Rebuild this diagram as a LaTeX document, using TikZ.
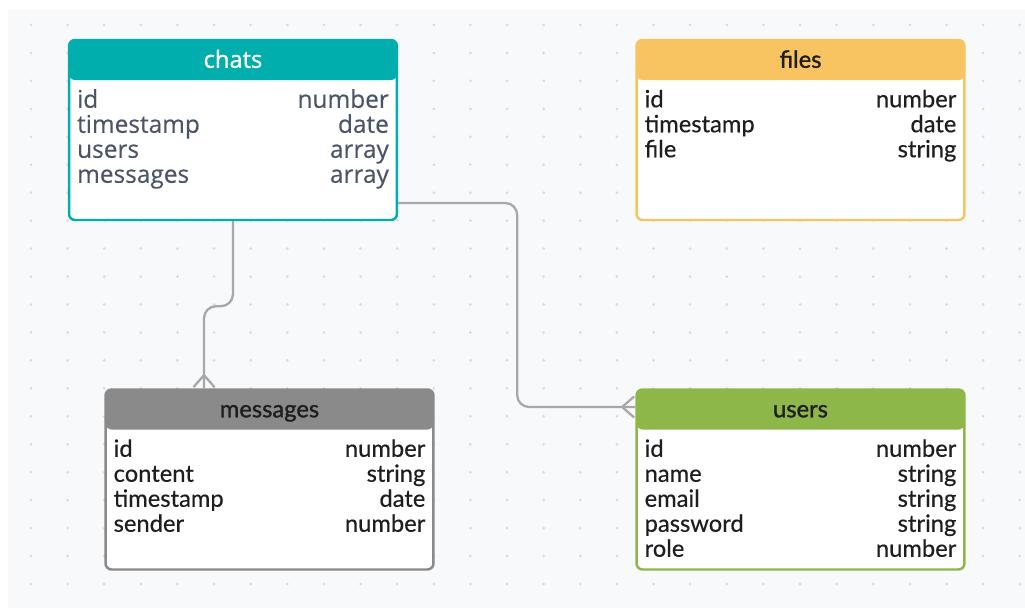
\documentclass[tikz,border=0pt]{standalone}
\usepackage{fontspec}
\setmainfont{Lato}[FakeBold=0.4]
\newfontfamily\chatsfont{Open Sans}[FakeBold=0.3]
\newfontfamily\headfont{Lato}[FakeBold=1.2]
\newfontfamily\chatsheadfont{Open Sans}[FakeBold=1.2]
\usetikzlibrary{arrows.meta,positioning}

\definecolor{canvas}{HTML}{F8F9FB}
\definecolor{griddot}{HTML}{D8DBDF}
\definecolor{chatshead}{HTML}{00AEAD}
\definecolor{fileshead}{HTML}{F8C462}
\definecolor{msghead}{HTML}{8A8A8A}
\definecolor{usershead}{HTML}{8DB749}
\definecolor{slate}{HTML}{4A5568}
\definecolor{ink}{HTML}{1E1E1E}
\definecolor{linkgray}{HTML}{A8A8A8}

\tikzset{
  table/.style={rectangle, draw=#1, fill=white, line width=1.4pt,
    rounded corners=0.12cm, minimum width=6.56cm, minimum height=3.6cm,
    inner sep=0pt,
    path picture={\fill[#1] (path picture bounding box.north west)
      rectangle ([yshift=-0.8cm]path picture bounding box.north east);}},
  title/.style={anchor=base, inner sep=0pt, text=ink, font=\fontsize{13.5}{16}\selectfont\headfont},
  field/.style={anchor=base west, inner sep=0pt, text=ink, font=\fontsize{13.5}{16}\selectfont},
  ftype/.style={field, anchor=base east},
  chatsfield/.style={text=slate, font=\fontsize{13.9}{16}\selectfont\chatsfont},
  link/.style={draw=linkgray, line width=1.3pt, rounded corners=0.24cm},
  many/.style={-{Straight Barb[reversed, length=0.24cm, width=0.42cm, line width=1.3pt]}}
}

\begin{document}
\begin{tikzpicture}[x=0.02cm, y=-0.02cm]
    \useasboundingbox (0,0) rectangle (1025,608);

    %%%%%%%%%% Sfondo %%%%%%%%%%
    \fill[canvas] (8,9) rectangle (1025,608);
    \foreach \i in {0,...,27}
        \foreach \j in {0,...,20}
            \fill[griddot] (31+36.62*\i, 25+27.95*\j) circle (0.03cm);

    %%%%%%%%%% Tabelle %%%%%%%%%%
    \node[table=chatshead] (chats) at (233,130) {};
    \node[table=fileshead] (files) at (800.5,130) {};
    \node[table=msghead] (messages) at (269.5,479.5) {};
    \node[table=usershead] (users) at (800.5,479.5) {};

    \node[title, text=white, font=\fontsize{13.5}{16}\selectfont\chatsheadfont] (chats-title) at ([yshift=-0.58cm]chats.north) {chats};
    \node[title] (files-title) at ([yshift=-0.58cm]files.north) {files};
    \node[title] (messages-title) at ([yshift=-0.58cm]messages.north) {messages};
    \node[title] (users-title) at ([yshift=-0.58cm]users.north) {users};

    %%%%%%%%%% Campi %%%%%%%%%%
    \foreach \n/\t [count=\i] in {id/number, timestamp/date, users/array, messages/array} {
        \node[field, chatsfield] (chats-n\i) at ([xshift=0.18cm, yshift={-0.88cm-0.5cm*\i}]chats.north west) {\n};
        \node[ftype, chatsfield] (chats-t\i) at ([xshift=-0.18cm, yshift={-0.88cm-0.5cm*\i}]chats.north east) {\t};
    }
    \foreach \n/\t [count=\i] in {id/number, timestamp/date, file/string} {
        \node[field] (files-n\i) at ([xshift=0.18cm, yshift={-0.87cm-0.5cm*\i}]files.north west) {\n};
        \node[ftype] (files-t\i) at ([xshift=-0.18cm, yshift={-0.87cm-0.5cm*\i}]files.north east) {\t};
    }
    \foreach \n/\t [count=\i] in {id/number, content/string, timestamp/date, sender/number} {
        \node[field] (messages-n\i) at ([xshift=0.18cm, yshift={-0.87cm-0.5cm*\i}]messages.north west) {\n};
        \node[ftype] (messages-t\i) at ([xshift=-0.18cm, yshift={-0.87cm-0.5cm*\i}]messages.north east) {\t};
    }
    \foreach \n/\t [count=\i] in {id/number, name/string, email/string, password/string, role/number} {
        \node[field] (users-n\i) at ([xshift=0.18cm, yshift={-0.87cm-0.5cm*\i}]users.north west) {\n};
        \node[ftype] (users-t\i) at ([xshift=-0.18cm, yshift={-0.87cm-0.5cm*\i}]users.north east) {\t};
    }

    %%%%%%%%% Relazioni %%%%%%%%%
    \coordinate (msg-end) at ([xshift=-1.31cm]messages.north);
    \coordinate (usr-end) at ([yshift=1.45cm]users.west);
    \draw[link] (chats.south) -- ++(0,-1.7cm) -| (msg-end);
    \draw[link] ([yshift=-1.46cm]chats.east) -- ++(2.38cm,0) |- (usr-end);
    \draw[link, many] ([yshift=0.4cm]msg-end) -- (msg-end);
    \draw[link, many] ([xshift=-0.4cm]usr-end) -- (usr-end);
\end{tikzpicture}
\end{document}
